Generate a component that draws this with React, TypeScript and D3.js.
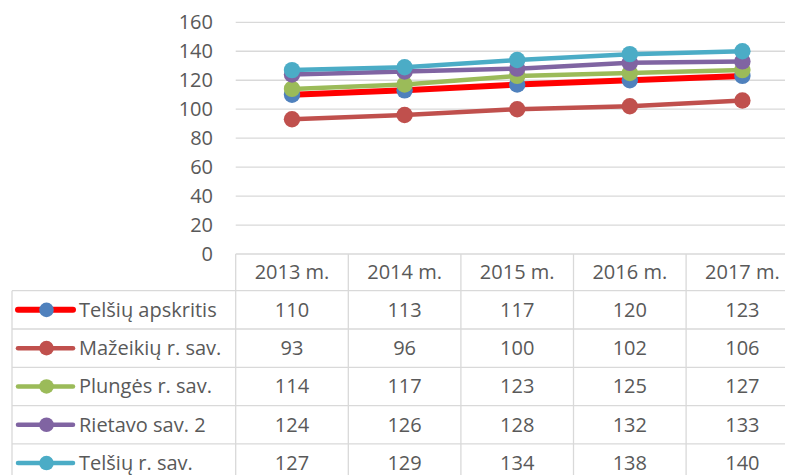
import React from 'react';
import * as d3 from 'd3';

const years = ['2013 m.', '2014 m.', '2015 m.', '2016 m.', '2017 m.'];
const seriesNames = ['Telšių apskritis', 'Mažeikių r. sav.', 'Plungės r. sav.', 'Rietavo sav. 2', 'Telšių r. sav.'];
const telsiuApskritis = [110, 113, 117, 120, 123];
const mazeikiu = [93, 96, 100, 102, 106];
const plunges = [114, 117, 123, 125, 127];
const rietavo = [124, 126, 128, 132, 133];
const telsiuRsav = [127, 129, 134, 138, 140];
const yTicks = [0, 20, 40, 60, 80, 100, 120, 140, 160];

const seriesValues = [telsiuApskritis, mazeikiu, plunges, rietavo, telsiuRsav];
const lineColors = ['#FF0000', '#C0504D', '#9BBB59', '#8064A2', '#4BACC6'];
const markerColors = ['#4F81BD', '#C0504D', '#9BBB59', '#8064A2', '#4BACC6'];
const lineWidths = [6, 4.5, 4.5, 4.5, 4.5];

const W = 785;
const H = 475;
const FONT = '"Open Sans", sans-serif';
const TEXT = '#595959';
const GRID = '#D9D9D9';

const App: React.FC = () => {
  const x = d3.scaleBand<string>().domain(years).range([235.7, 235.7 + 5 * 112.6]);
  const y = d3.scaleLinear().domain([0, 160]).range([254, 22.3]);

  const headerTop = 254;
  const headerBottom = 290.7;
  const rowH = 38.3;
  const tableLeft = 12;
  const plotLeft = x.range()[0];
  const plotRight = x.range()[1];
  const rowY = (i: number) => headerBottom + i * rowH;

  const line = d3.line<number>()
    .x((_, i) => (x(years[i]) as number) + x.bandwidth() / 2)
    .y((d) => y(d));

  return (
    <svg width={W} height={H} style={{ position: 'absolute', left: 0, top: 0 }}>
      <rect width={W} height={H} fill="#fff" />
      {/* gridlines */}
      {yTicks.filter((t) => t > 0).map((t) => (
        <line key={t} x1={plotLeft} x2={plotRight} y1={y(t)} y2={y(t)} stroke={GRID} strokeWidth={1.3} />
      ))}
      {/* y labels */}
      {yTicks.map((t) => (
        <text key={t} x={213} y={y(t)} dy="0.35em" textAnchor="end" fontFamily={FONT} fontSize={20} fill={TEXT}>
          {t}
        </text>
      ))}

      {/* table borders */}
      <g stroke={GRID} strokeWidth={1.3}>
        <line x1={plotLeft} x2={plotRight} y1={headerTop} y2={headerTop} />
        {seriesNames.map((_, i) => (
          <line key={'h' + i} x1={tableLeft} x2={plotRight} y1={rowY(i)} y2={rowY(i)} />
        ))}
        <line x1={tableLeft} x2={plotRight} y1={rowY(5)} y2={rowY(5)} />
        <line x1={tableLeft} x2={tableLeft} y1={headerBottom} y2={rowY(5)} />
        {years.map((yr) => (
          <line key={yr} x1={x(yr) as number} x2={x(yr) as number} y1={headerTop} y2={rowY(5)} />
        ))}
        <line x1={plotRight} x2={plotRight} y1={headerTop} y2={rowY(5)} />
      </g>

      {/* header */}
      {years.map((yr) => (
        <text key={yr} x={(x(yr) as number) + x.bandwidth() / 2} y={(headerTop + headerBottom) / 2} dy="0.35em"
          textAnchor="middle" fontFamily={FONT} fontSize={20} fill={TEXT}>
          {yr}
        </text>
      ))}

      {/* rows */}
      {seriesNames.map((name, i) => {
        const cy = rowY(i) + rowH / 2;
        return (
          <g key={name}>
            <line x1={18} x2={73} y1={cy} y2={cy} stroke={lineColors[i]} strokeWidth={lineWidths[i]} strokeLinecap="round" />
            <circle cx={46.5} cy={cy} r={7.3} fill={markerColors[i]} />
            <text x={79} y={cy} dy="0.35em" fontFamily={FONT} fontSize={20} fill={TEXT}>{name}</text>
            {seriesValues[i].map((v, j) => (
              <text key={j} x={(x(years[j]) as number) + x.bandwidth() / 2} y={cy} dy="0.35em" textAnchor="middle"
                fontFamily={FONT} fontSize={20} fill={TEXT}>
                {v}
              </text>
            ))}
          </g>
        );
      })}

      {/* series */}
      {seriesValues.map((vals, i) => (
        <g key={'s' + i}>
          <path d={line(vals) as string} fill="none" stroke={lineColors[i]} strokeWidth={lineWidths[i]} strokeLinejoin="round" />
          {vals.map((v, j) => (
            <circle key={j} cx={(x(years[j]) as number) + x.bandwidth() / 2} cy={y(v)} r={8.2} fill={markerColors[i]} />
          ))}
        </g>
      ))}
    </svg>
  );
};

export default App;
